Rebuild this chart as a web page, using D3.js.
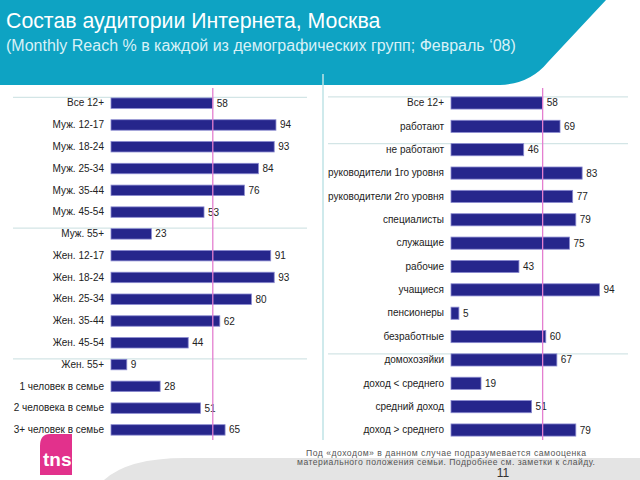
<!DOCTYPE html>
<html><head><meta charset="utf-8">
<script src="https://cdn.jsdelivr.net/npm/d3@7"></script>
<style>
html,body{margin:0;padding:0;background:#fff;}
svg{display:block;font-family:Arial,"Liberation Sans",sans-serif;}
</style></head>
<body>
<svg id="c" width="640" height="480"></svg>
<script>
const title = "Состав аудитории Интернета, Москва";
const subtitle = "(Monthly Reach % в каждой из демографических групп; Февраль ‘08)";
const leftCategories = ["Все 12+","Муж. 12-17","Муж. 18-24","Муж. 25-34","Муж. 35-44","Муж. 45-54","Муж. 55+","Жен. 12-17","Жен. 18-24","Жен. 25-34","Жен. 35-44","Жен. 45-54","Жен. 55+","1 человек в семье","2 человека в семье","3+ человек в семье"];
const leftValues = [58,94,93,84,76,53,23,91,93,80,62,44,9,28,51,65];
const leftSeparators = ["Все 12+","Муж. 55+","Жен. 55+"];
const rightCategories = ["Все 12+","работают","не работают","руководители 1го уровня","руководители 2го уровня","специалисты","служащие","рабочие","учащиеся","пенсионеры","безработные","домохозяйки","доход < среднего","средний доход","доход > среднего"];
const rightValues = [58,69,46,83,77,79,75,43,94,5,60,67,19,51,79];
const rightSeparators = ["Все 12+","не работают","домохозяйки"];
const averageValue = 58;
const noteLines = ["Под «доходом» в данном случае подразумевается самооценка","материального положения семьи. Подробнее см. заметки к слайду."];
const pageNumber = "11";

const svg = d3.select("#c");

// header banner
svg.append("path")
  .attr("d","M0,0 L606,0 L548,62 Q530,84 500,85 L0,85 Z")
  .attr("fill","#0ea3c3");
svg.append("text").attr("x",6).attr("y",28).attr("fill","#fff")
  .attr("font-size",21.3).text(title);
svg.append("text").attr("x",6).attr("y",51).attr("fill","#d8f1f7")
  .attr("font-size",16).text(subtitle);

// bottom grey swoosh
svg.append("path")
  .attr("d","M104,480 Q128,458 185,458 L640,458 L640,480 Z")
  .attr("fill","#e4e4e4");

// divider
svg.append("line").attr("x1",323).attr("x2",323).attr("y1",74).attr("y2",440)
  .attr("stroke","#bfe3e6").attr("stroke-width",1.5);

function panel(cats, vals, seps, xRange, yRange, pad, sepX, sepOff){
  const x = d3.scaleLinear().domain([0,100]).range(xRange);
  const y = d3.scaleBand().domain(cats).range(yRange).paddingInner(pad).paddingOuter(pad/2);
  const g = svg.append("g");
  g.selectAll("line.sep").data(seps).join("line")
    .attr("x1",sepX[0]).attr("x2",sepX[1])
    .attr("y1",d=>y(d)+sepOff).attr("y2",d=>y(d)+sepOff)
    .attr("stroke","#d3e5e6").attr("stroke-width",1.3);
  g.selectAll("rect").data(vals).join("rect")
    .attr("x",x(0)).attr("y",(d,i)=>y(cats[i]))
    .attr("width",d=>x(d)-x(0)).attr("height",y.bandwidth())
    .attr("fill","#26268c").attr("stroke","#8a8ad0").attr("stroke-width",0.8);
  const ax = d3.axisLeft(y).tickSize(0).tickPadding(7);
  const a = g.append("g").attr("transform",`translate(${x(0)},0)`).call(ax);
  a.select(".domain").remove();
  a.selectAll("text").attr("font-size",10).attr("fill","#222").attr("font-family","Arial,'Liberation Sans',sans-serif");
  g.selectAll("text.v").data(vals).join("text").attr("class","v")
    .attr("x",d=>x(d)+4).attr("y",(d,i)=>y(cats[i])+y.bandwidth()/2)
    .attr("dy","0.35em").attr("font-size",10).attr("fill","#222").text(d=>d);
  g.append("line").attr("x1",x(averageValue)).attr("x2",x(averageValue))
    .attr("y1",88).attr("y2",440).attr("stroke","#e47fd0").attr("stroke-width",1.3);
}
panel(leftCategories,leftValues,leftSeparators,[111,286.5],[92.3,440.8],0.52,[13,307],-0.5);
panel(rightCategories,rightValues,rightSeparators,[451,609],[91.3,441.7],0.48,[328,628],0);

// notes
const noteWidths = [280, 298];
svg.selectAll("text.note").data(noteLines).join("text").attr("class","note")
  .attr("x",(d,i)=>446 - noteWidths[i]/2).attr("y",(d,i)=>455.5+i*9.5)
  .attr("textLength",(d,i)=>noteWidths[i]).attr("lengthAdjust","spacing")
  .attr("font-size",8.6).attr("fill","#555").text(d=>d);
svg.append("text").attr("x",503).attr("y",477).attr("text-anchor","middle")
  .attr("font-size",12).attr("fill","#333").text(pageNumber);

// tns logo
svg.append("path")
  .attr("d","M44,434 L72,434 L72,475 L40,475 L40,446 Q40,434 50,434 Z")
  .attr("fill","#e2318c");
svg.append("text").attr("x",43).attr("y",466).attr("fill","#fff")
  .attr("font-size",19).attr("font-weight","bold").text("tns");
</script>
</body></html>
